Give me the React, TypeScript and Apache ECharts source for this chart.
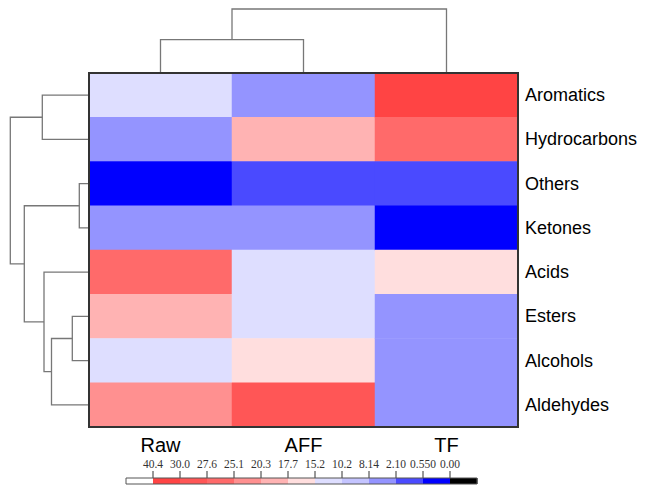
import React, { useEffect, useRef } from 'react';
import * as echarts from 'echarts';

const columns = ['Raw', 'AFF', 'TF'];
const rows = ['Aromatics', 'Hydrocarbons', 'Others', 'Ketones', 'Acids', 'Esters', 'Alcohols', 'Aldehydes'];
const rawValues = [11.5, 5.3, 0.3, 4.2, 26.3, 18.5, 11.9, 21.6];
const affValues = [5.1, 18.9, 1.2, 3.9, 12.8, 11.6, 16.3, 28.6];
const tfValues = [35.2, 26.4, 1.5, 0.3, 16.4, 6.8, 6.5, 6.9];

// bin edges of the colour scale, from high to low
const binEdges = [40.4, 30.0, 27.6, 25.1, 20.3, 17.7, 15.2, 10.2, 8.14, 2.1, 0.55, 0.0];
const binLabels = ['40.4', '30.0', '27.6', '25.1', '20.3', '17.7', '15.2', '10.2', '8.14', '2.10', '0.550', '0.00'];
// above max, 11 bins (high -> low), below min
const binColors = [
  '#ffffff', '#ff4444', '#ff5656', '#ff6a6a', '#ff9090', '#ffb3b3', '#ffdede',
  '#dedeff', '#c4c4ff', '#9494ff', '#4a4aff', '#0000ff', '#000000',
];

// linkage: [a, b, height]; index >= n refers to an earlier merge
const colLinkage = [[0, 1, 0.52], [3, 2, 1.0]];
const rowLinkage = [
  [2, 3, 9.7], [5, 6, 16.7], [9, 7, 37.5], [4, 10, 45], [0, 1, 46.7], [8, 11, 64.7], [12, 13, 78.7],
];

function dendroSegments(n: number, linkage: number[][]) {
  const pos: number[] = [];
  const hgt: number[] = [];
  for (let i = 0; i < n; i++) { pos.push(i + 0.5); hgt.push(0); }
  const segs: number[][] = [];
  linkage.forEach(([a, b, h]) => {
    segs.push([pos[a], hgt[a], pos[b], hgt[b], h]);
    pos.push((pos[a] + pos[b]) / 2);
    hgt.push(h);
  });
  return segs;
}

const lineColor = '#777777';

function makeDendroRender(horizontal: boolean) {
  return (params: any, api: any) => {
    const pA = api.value(0), hA = api.value(1), pB = api.value(2), hB = api.value(3), h = api.value(4);
    const c = (p: number, hh: number) => (horizontal ? api.coord([p, hh]) : api.coord([hh, p]));
    return {
      type: 'polyline',
      shape: { points: [c(pA, hA), c(pA, h), c(pB, h), c(pB, hB)] },
      style: { stroke: lineColor, lineWidth: 1.3, fill: null },
    };
  };
}

export default function App() {
  const ref = useRef<HTMLDivElement>(null);
  useEffect(() => {
    document.body.style.margin = '0';
    const chart = echarts.init(ref.current!, null, { renderer: 'svg' });
    const heatData: number[][] = [];
    [rawValues, affValues, tfValues].forEach((vals, ci) => {
      vals.forEach((v, ri) => heatData.push([ci, ri, v]));
    });
    const pieces: any[] = [{ gt: binEdges[0], color: binColors[0] }];
    for (let i = 0; i < binEdges.length - 1; i++) {
      pieces.push({ gte: binEdges[i + 1], lte: binEdges[i], color: binColors[i + 1] });
    }
    pieces.push({ lt: binEdges[binEdges.length - 1], color: binColors[binColors.length - 1] });
    const legendData = binColors.map((c, i) => [i, i + 1, i]);
    const tickVals = binLabels.map((_, i) => i + 1);
    const nBins = binColors.length;

    chart.setOption({
      animation: false,
      grid: [
        { left: 89, top: 73, width: 429, height: 354, show: true, backgroundColor: 'transparent', borderColor: '#333', borderWidth: 2, z: 10 },
        { left: 89, top: 9, width: 429, height: 64 },
        { left: 10, top: 73, width: 79, height: 354 },
        { left: 126, top: 471, width: 351, height: 13 },
      ],
      xAxis: [
        {
          gridIndex: 0, type: 'category', data: columns, position: 'bottom',
          axisLine: { show: false }, axisTick: { show: false },
          axisLabel: { fontSize: 20, color: '#000', fontFamily: 'Liberation Sans, Arial, sans-serif', margin: 8 },
        },
        { gridIndex: 1, type: 'value', min: 0, max: 3, show: false },
        { gridIndex: 2, type: 'value', min: 0, max: 79, inverse: true, show: false },
        {
          gridIndex: 3, type: 'value', min: 0, max: nBins, position: 'top',
          splitLine: { show: false }, axisLine: { show: false }, axisTick: { show: false },
          axisLabel: {
            customValues: tickVals, margin: 1, fontSize: 11.5, color: '#333',
            fontFamily: 'Liberation Serif, Times New Roman, serif',
            formatter: (v: number) => binLabels[Math.round(v) - 1] ?? '',
          },
        },
      ],
      yAxis: [
        {
          gridIndex: 0, type: 'category', data: rows, inverse: true, position: 'right',
          axisLine: { show: false }, axisTick: { show: false },
          axisLabel: { fontSize: 18, color: '#000', fontFamily: 'Liberation Sans, Arial, sans-serif', margin: 7 },
        },
        { gridIndex: 1, type: 'value', min: 0, max: 1, show: false },
        { gridIndex: 2, type: 'value', min: 0, max: 8, inverse: true, show: false },
        // legend: bar occupies 0..6, ticks 6..13
        { gridIndex: 3, type: 'value', min: 0, max: 13, show: false },
      ],
      visualMap: {
        type: 'piecewise', show: false, seriesIndex: 0, dimension: 2, pieces,
      },
      series: [
        {
          type: 'heatmap', xAxisIndex: 0, yAxisIndex: 0, data: heatData,
          itemStyle: { borderWidth: 0 },
          emphasis: { disabled: true },
        },
        {
          type: 'custom', xAxisIndex: 1, yAxisIndex: 1,
          data: dendroSegments(columns.length, colLinkage),
          renderItem: makeDendroRender(true),
        },
        {
          type: 'custom', xAxisIndex: 2, yAxisIndex: 2,
          data: dendroSegments(rows.length, rowLinkage),
          renderItem: makeDendroRender(false),
        },
        {
          type: 'custom', xAxisIndex: 3, yAxisIndex: 3, clip: false,
          data: legendData,
          renderItem: (params: any, api: any) => {
            const a = api.coord([api.value(0), 6]);
            const b = api.coord([api.value(1), 0]);
            const t = api.coord([api.value(0), 13]);
            const children: any[] = [
              {
                type: 'rect',
                shape: { x: a[0], y: a[1], width: b[0] - a[0] + 0.5, height: b[1] - a[1] },
                style: { fill: binColors[api.value(2)] },
              },
            ];
            if (api.value(0) > 0) {
              children.push({
                type: 'line',
                shape: { x1: a[0], y1: a[1], x2: a[0], y2: t[1] },
                style: { stroke: '#333', lineWidth: 1 },
              });
            }
            if (api.value(1) === nBins) {
              const s = api.coord([0, 6]);
              children.push({
                type: 'rect', z2: 10,
                shape: { x: s[0], y: s[1], width: b[0] - s[0], height: b[1] - s[1] },
                style: { fill: null, stroke: '#555', lineWidth: 1 },
              });
            }
            return { type: 'group', children };
          },
        },
      ],
    });
    return () => chart.dispose();
  }, []);
  return <div ref={ref} style={{ width: 645, height: 485 }} />;
}
